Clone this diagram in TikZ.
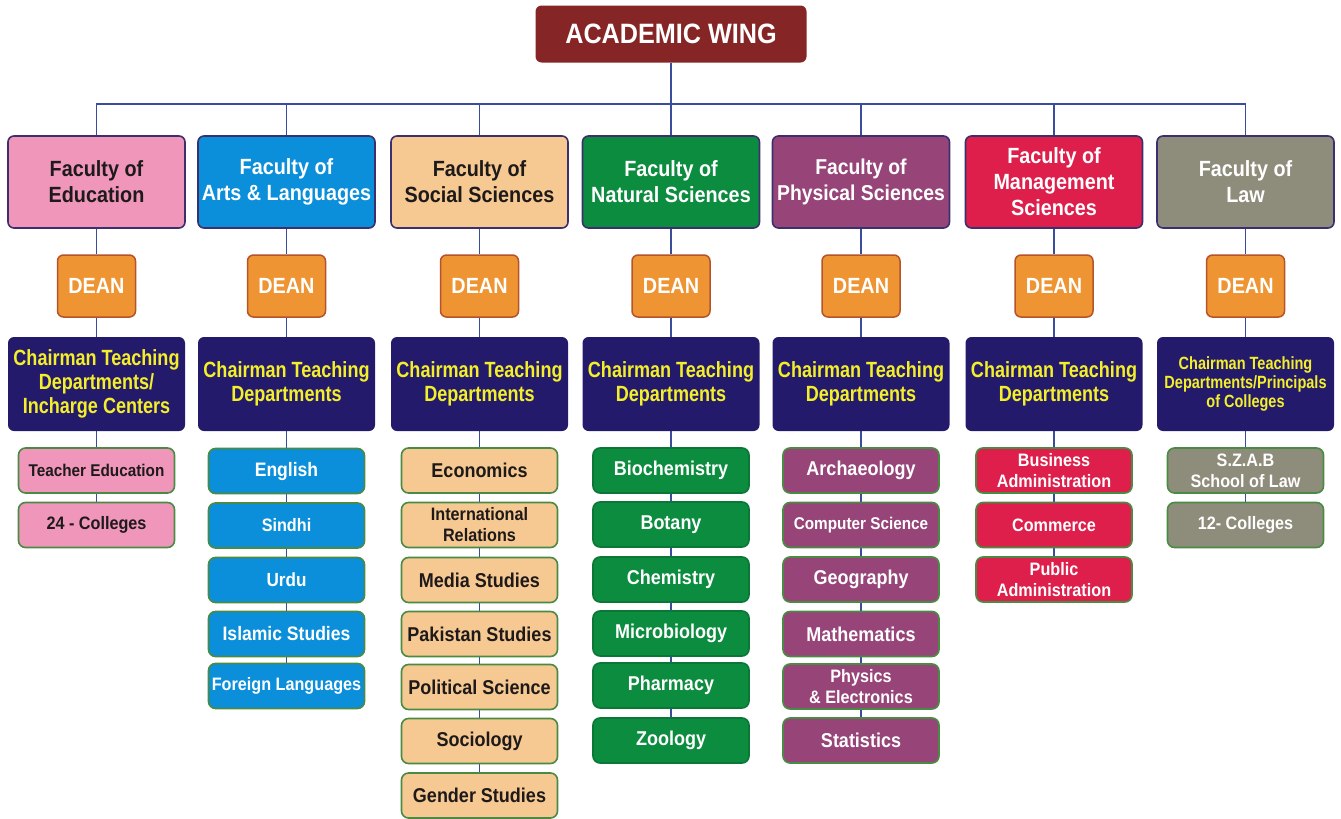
\documentclass[tikz,border=0pt]{standalone}
\usepackage{fontspec}
\setmainfont{Liberation Sans}
\newfontfamily\fA{Liberation Sans}[FakeStretch=0.9]
\newfontfamily\fB{Liberation Sans}[FakeStretch=0.82]
\usetikzlibrary{backgrounds}
\newcommand\myfs[2]{\fontsize{#1}{#2}\selectfont}
\definecolor{cmaroon}{HTML}{862525}
\definecolor{cline}{HTML}{3A4D9C}
\definecolor{cfacb}{HTML}{3B2F6E}
\definecolor{cpink}{HTML}{F096BB}
\definecolor{cblue}{HTML}{0B8FDA}
\definecolor{ctan}{HTML}{F6C892}
\definecolor{cgreen}{HTML}{0C8C3F}
\definecolor{cpurple}{HTML}{974579}
\definecolor{cred}{HTML}{DE1F4B}
\definecolor{colive}{HTML}{8E8C7A}
\definecolor{cdean}{HTML}{EE9433}
\definecolor{cdeanb}{HTML}{B5532A}
\definecolor{cchair}{HTML}{241A6B}
\definecolor{cyel}{HTML}{F4EF2B}
\definecolor{cdeptb}{HTML}{4A8B44}
\definecolor{cdark}{HTML}{1E1A1A}
\begin{document}
\begin{tikzpicture}[x=1pt,y=-1pt,
  conn/.style={draw=cline, line width=1.9pt},
  topbox/.style={rounded corners=6pt, fill=cmaroon, text=white, minimum width=271, minimum height=57, inner sep=0, font=\fA\bfseries\myfs{28}{30}},
  fac/.style={rounded corners=6pt, draw=cfacb, line width=1.6pt, minimum width=177, minimum height=92, inner sep=0, align=center, text=white, font=\fA\bfseries\myfs{22}{26}},
  dean/.style={rounded corners=6pt, draw=cdeanb, line width=1.5pt, fill=cdean, text=white, minimum width=78, minimum height=62, inner sep=0, font=\fA\bfseries\myfs{22}{24}},
  chair/.style={rounded corners=6pt, fill=cchair, text=cyel, minimum width=177, minimum height=94, inner sep=0, align=center, font=\fB\bfseries\myfs{22}{24}},
  dept/.style={rounded corners=7pt, draw=cdeptb, line width=1.6pt, minimum width=156, minimum height=45, inner sep=0, align=center, text=white, font=\fA\bfseries\myfs{20}{21}},
  fsm/.style={font=\fA\bfseries\myfs{18}{21}}
]
\useasboundingbox (0,0) rectangle (1341,819);

\node[topbox] (top) at (671,34) {ACADEMIC WING};
\coordinate (bar) at (671,104);

% Faculties
\node[fac, fill=cpink, text=cdark] (f1) at (96.5,182) {Faculty of\\Education};
\node[fac, fill=cblue] (f2) at (286.5,182) {Faculty of\\Arts \& Languages};
\node[fac, fill=ctan, text=cdark] (f3) at (479.5,182) {Faculty of\\Social Sciences};
\node[fac, fill=cgreen] (f4) at (671,182) {Faculty of\\Natural Sciences};
\node[fac, fill=cpurple, font=\fA\bfseries\myfs{21.5}{26}] (f5) at (861,182) {Faculty of\\Physical Sciences};
\node[fac, fill=cred] (f6) at (1054,182) {Faculty of\\Management\\Sciences};
\node[fac, fill=colive] (f7) at (1245.5,182) {Faculty of\\Law};

% Deans
\node[dean] (n1) at (96.5,286) {DEAN};
\node[dean] (n2) at (286.5,286) {DEAN};
\node[dean] (n3) at (479.5,286) {DEAN};
\node[dean] (n4) at (671,286) {DEAN};
\node[dean] (n5) at (861,286) {DEAN};
\node[dean] (n6) at (1054,286) {DEAN};
\node[dean] (n7) at (1245.5,286) {DEAN};

% Chairmen
\node[chair] (c1) at (96.5,384) {Chairman Teaching\\Departments/\\Incharge Centers};
\node[chair] (c2) at (286.5,384) {Chairman Teaching\\Departments};
\node[chair] (c3) at (479.5,384) {Chairman Teaching\\Departments};
\node[chair] (c4) at (671,384) {Chairman Teaching\\Departments};
\node[chair] (c5) at (861,384) {Chairman Teaching\\Departments};
\node[chair] (c6) at (1054,384) {Chairman Teaching\\Departments};
\node[chair, font=\fB\bfseries\myfs{17.7}{19}] (c7) at (1245.5,384) {Chairman Teaching\\Departments/Principals\\of Colleges};

% Column 1
\node[dept, fill=cpink, text=cdark, font=\fA\bfseries\myfs{17}{21}] (a1) at (96.5,470.5) {Teacher Education};
\node[dept, fill=cpink, text=cdark, fsm] (a2) at (96.5,525) {24 - Colleges};

% Column 2
\node[dept, fill=cblue, font=\fA\bfseries\myfs{19.5}{21}] (b1) at (286.5,471) {English};
\node[dept, fill=cblue, fsm] (b2) at (286.5,525.5) {Sindhi};
\node[dept, fill=cblue, font=\fA\bfseries\myfs{19}{21}] (b3) at (286.5,580) {Urdu};
\node[dept, fill=cblue, font=\fA\bfseries\myfs{19.5}{21}] (b4) at (286.5,634) {Islamic Studies};
\node[dept, fill=cblue, fsm] (b5) at (286.5,686) {Foreign Languages};

% Column 3
\node[dept, fill=ctan, text=cdark] (s1) at (479.5,470.5) {Economics};
\node[dept, fill=ctan, text=cdark, fsm] (s2) at (479.5,525) {International\\Relations};
\node[dept, fill=ctan, text=cdark] (s3) at (479.5,580) {Media Studies};
\node[dept, fill=ctan, text=cdark] (s4) at (479.5,634) {Pakistan Studies};
\node[dept, fill=ctan, text=cdark] (s5) at (479.5,687) {Political Science};
\node[dept, fill=ctan, text=cdark] (s6) at (479.5,741) {Sociology};
\node[dept, fill=ctan, text=cdark] (s7) at (479.5,795.5) {Gender Studies};

% Column 4
\node[dept, fill=cgreen, draw=cgreen!85!black] (g1) at (671,470.5) {Biochemistry};
\node[dept, fill=cgreen, draw=cgreen!85!black] (g2) at (671,524.5) {Botany};
\node[dept, fill=cgreen, draw=cgreen!85!black] (g3) at (671,579.5) {Chemistry};
\node[dept, fill=cgreen, draw=cgreen!85!black] (g4) at (671,633.5) {Microbiology};
\node[dept, fill=cgreen, draw=cgreen!85!black] (g5) at (671,685.5) {Pharmacy};
\node[dept, fill=cgreen, draw=cgreen!85!black] (g6) at (671,740.5) {Zoology};

% Column 5
\node[dept, fill=cpurple] (p1) at (861,470.5) {Archaeology};
\node[dept, fill=cpurple, font=\fA\bfseries\myfs{17}{21}] (p2) at (861,525) {Computer Science};
\node[dept, fill=cpurple] (p3) at (861,579.5) {Geography};
\node[dept, fill=cpurple] (p4) at (861,634) {Mathematics};
\node[dept, fill=cpurple, fsm] (p5) at (861,686.5) {Physics\\\& Electronics};
\node[dept, fill=cpurple] (p6) at (861,740.5) {Statistics};

% Column 6
\node[dept, fill=cred, fsm] (m1) at (1054,470.5) {Business\\Administration};
\node[dept, fill=cred, fsm] (m2) at (1054,525) {Commerce};
\node[dept, fill=cred, fsm] (m3) at (1054,579.5) {Public\\Administration};

% Column 7
\node[dept, fill=colive, fsm] (l1) at (1245.5,470.5) {S.Z.A.B\\School of Law};
\node[dept, fill=colive, fsm] (l2) at (1245.5,525) {12- Colleges};

\begin{pgfonlayer}{background}
  \draw[conn] (top) -- (bar);
  \draw[conn] (f1.north) -- (f1.north |- bar) -- (f7.north |- bar) -- (f7.north);
  \foreach \f in {f2,f3,f4,f5,f6} { \draw[conn] (\f.north) -- (\f.north |- bar); }
  \draw[conn] (f1) -- (n1) -- (c1) -- (a1) -- (a2);
  \draw[conn] (f2) -- (n2) -- (c2) -- (b1) -- (b2) -- (b3) -- (b4) -- (b5);
  \draw[conn] (f3) -- (n3) -- (c3) -- (s1) -- (s2) -- (s3) -- (s4) -- (s5) -- (s6) -- (s7);
  \draw[conn] (f4) -- (n4) -- (c4) -- (g1) -- (g2) -- (g3) -- (g4) -- (g5) -- (g6);
  \draw[conn] (f5) -- (n5) -- (c5) -- (p1) -- (p2) -- (p3) -- (p4) -- (p5) -- (p6);
  \draw[conn] (f6) -- (n6) -- (c6) -- (m1) -- (m2) -- (m3);
  \draw[conn] (f7) -- (n7) -- (c7) -- (l1) -- (l2);
\end{pgfonlayer}
\end{tikzpicture}
\end{document}
